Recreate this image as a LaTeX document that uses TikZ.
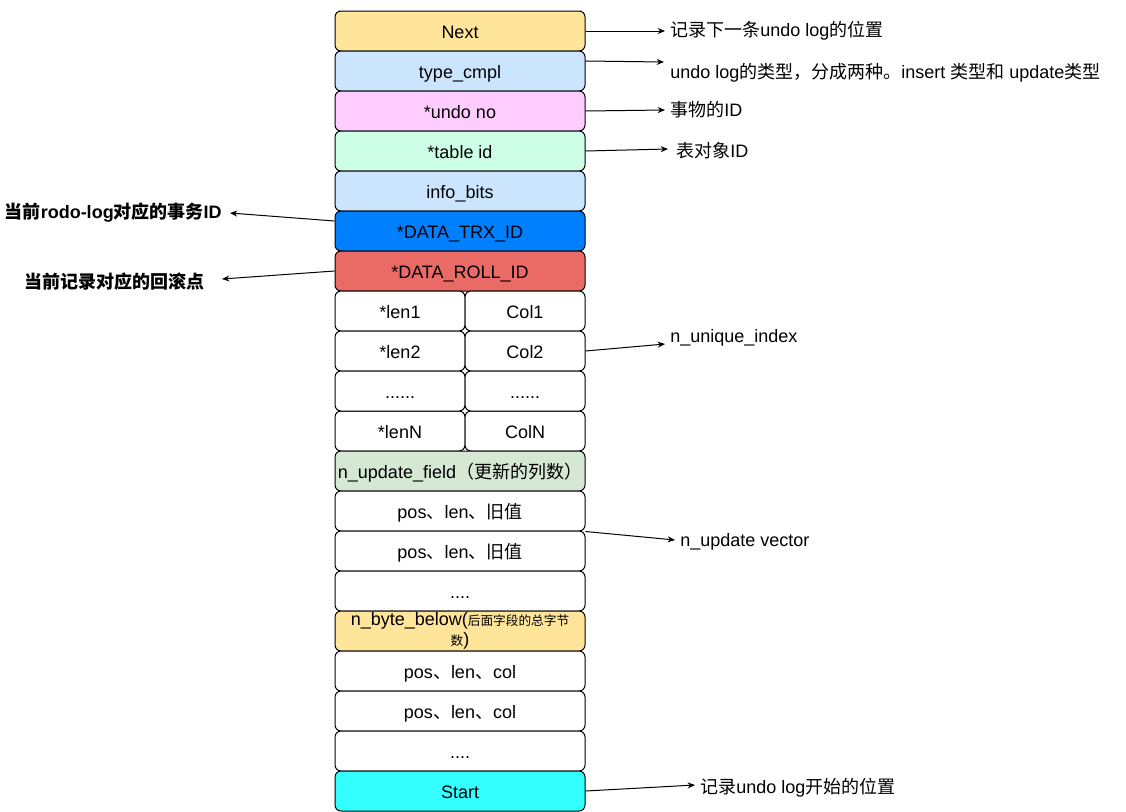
\documentclass[tikz,border=0pt]{standalone}
\usepackage{fontspec}
\setmainfont{Liberation Sans}
\newfontfamily\cjk{Noto Sans CJK SC}
\newcommand{\zh}[1]{{\cjk #1}}
\usetikzlibrary{arrows.meta}
\definecolor{nextc}{HTML}{FFE599}
\definecolor{typec}{HTML}{CCE5FF}
\definecolor{undoc}{HTML}{FFCCFF}
\definecolor{tablec}{HTML}{CCFFE6}
\definecolor{trxc}{HTML}{007FFF}
\definecolor{rollc}{HTML}{EA6B66}
\definecolor{updc}{HTML}{D5E8D4}
\definecolor{startc}{HTML}{33FFFF}

\begin{document}
\begin{tikzpicture}[x=0.75pt,y=-0.75pt,font=\fontsize{13.5}{15}\selectfont,
  field/.style={draw,line width=.75pt,rounded corners=4.5pt,minimum width=187.5pt,minimum height=30pt,inner sep=0pt,align=center,text height=10.5pt,text depth=0pt},
  halfl/.style={field,minimum width=97.5pt},
  halfr/.style={field,minimum width=90pt},
  note/.style={anchor=west,inner sep=0pt},
  bnote/.style={anchor=east,inner sep=0pt,font=\fontsize{13.5}{15}\selectfont\bfseries},
  link/.style={line width=.75pt,-{Stealth[length=5.5pt,width=4.5pt]}}]
  \useasboundingbox (0,0) rectangle (1126,811);
  % header fields
  \foreach \n/\y/\c/\t in {next/31/nextc/Next, type/71/typec/type\_cmpl, undo/111/undoc/*undo no, table/151/tablec/*table id, info/191/typec/info\_bits, trx/231/trxc/*DATA\_TRX\_ID, roll/271/rollc/*DATA\_ROLL\_ID}
    \node[field,fill=\c] (\n) at (460,\y) {\t};
  % unique index columns
  \foreach \n/\y/\a/\b in {1/311/*len1/Col1, 2/351/*len2/Col2, N/431/*lenN/ColN}{
    \node[halfl,fill=white] (len\n) at (400,\y) {\a};
    \node[halfr,fill=white] (col\n) at (525,\y) {\b};}
  \node[halfl,fill=white] (lendots) at (400,391) {......};
  \node[halfr,fill=white] (coldots) at (525,391) {......};
  % update vector
  \node[field,fill=updc] (upd) at (460,471) {n\_update\_field\zh{（更新的列数）}};
  \foreach \n/\y in {posa/511, posb/551}
    \node[field,fill=white] (\n) at (460,\y) {pos\zh{、}len\zh{、旧值}};
  \node[field,fill=white] (vdots) at (460,591) {....};
  \node[field,fill=nextc,text height=,text depth=] (below) at (460,631) {n\_byte\_below(\zh{\fontsize{9.5}{10}\selectfont 后面字段的总字节}\\\zh{\fontsize{9.5}{10}\selectfont 数})};
  \foreach \n/\y in {cola/671, colb/711}
    \node[field,fill=white] (\n) at (460,\y) {pos\zh{、}len\zh{、}col};
  \node[field,fill=white] (cdots) at (460,751) {....};
  \node[field,fill=startc] (start) at (460,791) {Start};
  % notes
  \node[note] (lnext) at (670,31) {\zh{记录下一条}undo log\zh{的位置}};
  \node[note] (ltype) at (670,73) {undo log\zh{的类型，分成两种。}insert \zh{类型和} update\zh{类型}};
  \node[note] (lundo) at (670,110) {\zh{事物的}ID};
  \node[note] (ltable) at (676,151) {\zh{表对象}ID};
  \node[bnote] (ltrx) at (222,213) {\zh{当前}rodo-log\zh{对应的事务}ID};
  \node[bnote] (lroll) at (205,282) {\zh{当前记录对应的回滚点}};
  \node[note] (lidx) at (670,338) {n\_unique\_index};
  \node[note] (lvec) at (680,542) {n\_update vector};
  \node[note] (lstart) at (700,788) {\zh{记录}undo log\zh{开始的位置}};
  % arrows
  \draw[link] (next.east) -- ([xshift=-3.75pt]lnext.west);
  \draw[link] ([yshift=7.5pt]type.east) -- ([xshift=-4.5pt,yshift=8.25pt]ltype.west);
  \draw[link] (undo.east) -- ([xshift=-3.75pt]lundo.west);
  \draw[link] (table.east) -- ([xshift=-6pt,yshift=1.5pt]ltable.west);
  \draw[link] ([yshift=7.5pt]trx.west) -- ([xshift=6pt]ltrx.east);
  \draw[link] (roll.west) -- ([xshift=12.75pt,yshift=2.25pt]lroll.east);
  \draw[link] (col2.east) -- ([xshift=-3.75pt,yshift=-4.5pt]lidx.west);
  \draw[link] (posa.south east) -- ([xshift=-3.75pt,yshift=1.5pt]lvec.west);
  \draw[link] (start.east) -- ([xshift=-3.75pt,yshift=2.25pt]lstart.west);
\end{tikzpicture}
\end{document}
